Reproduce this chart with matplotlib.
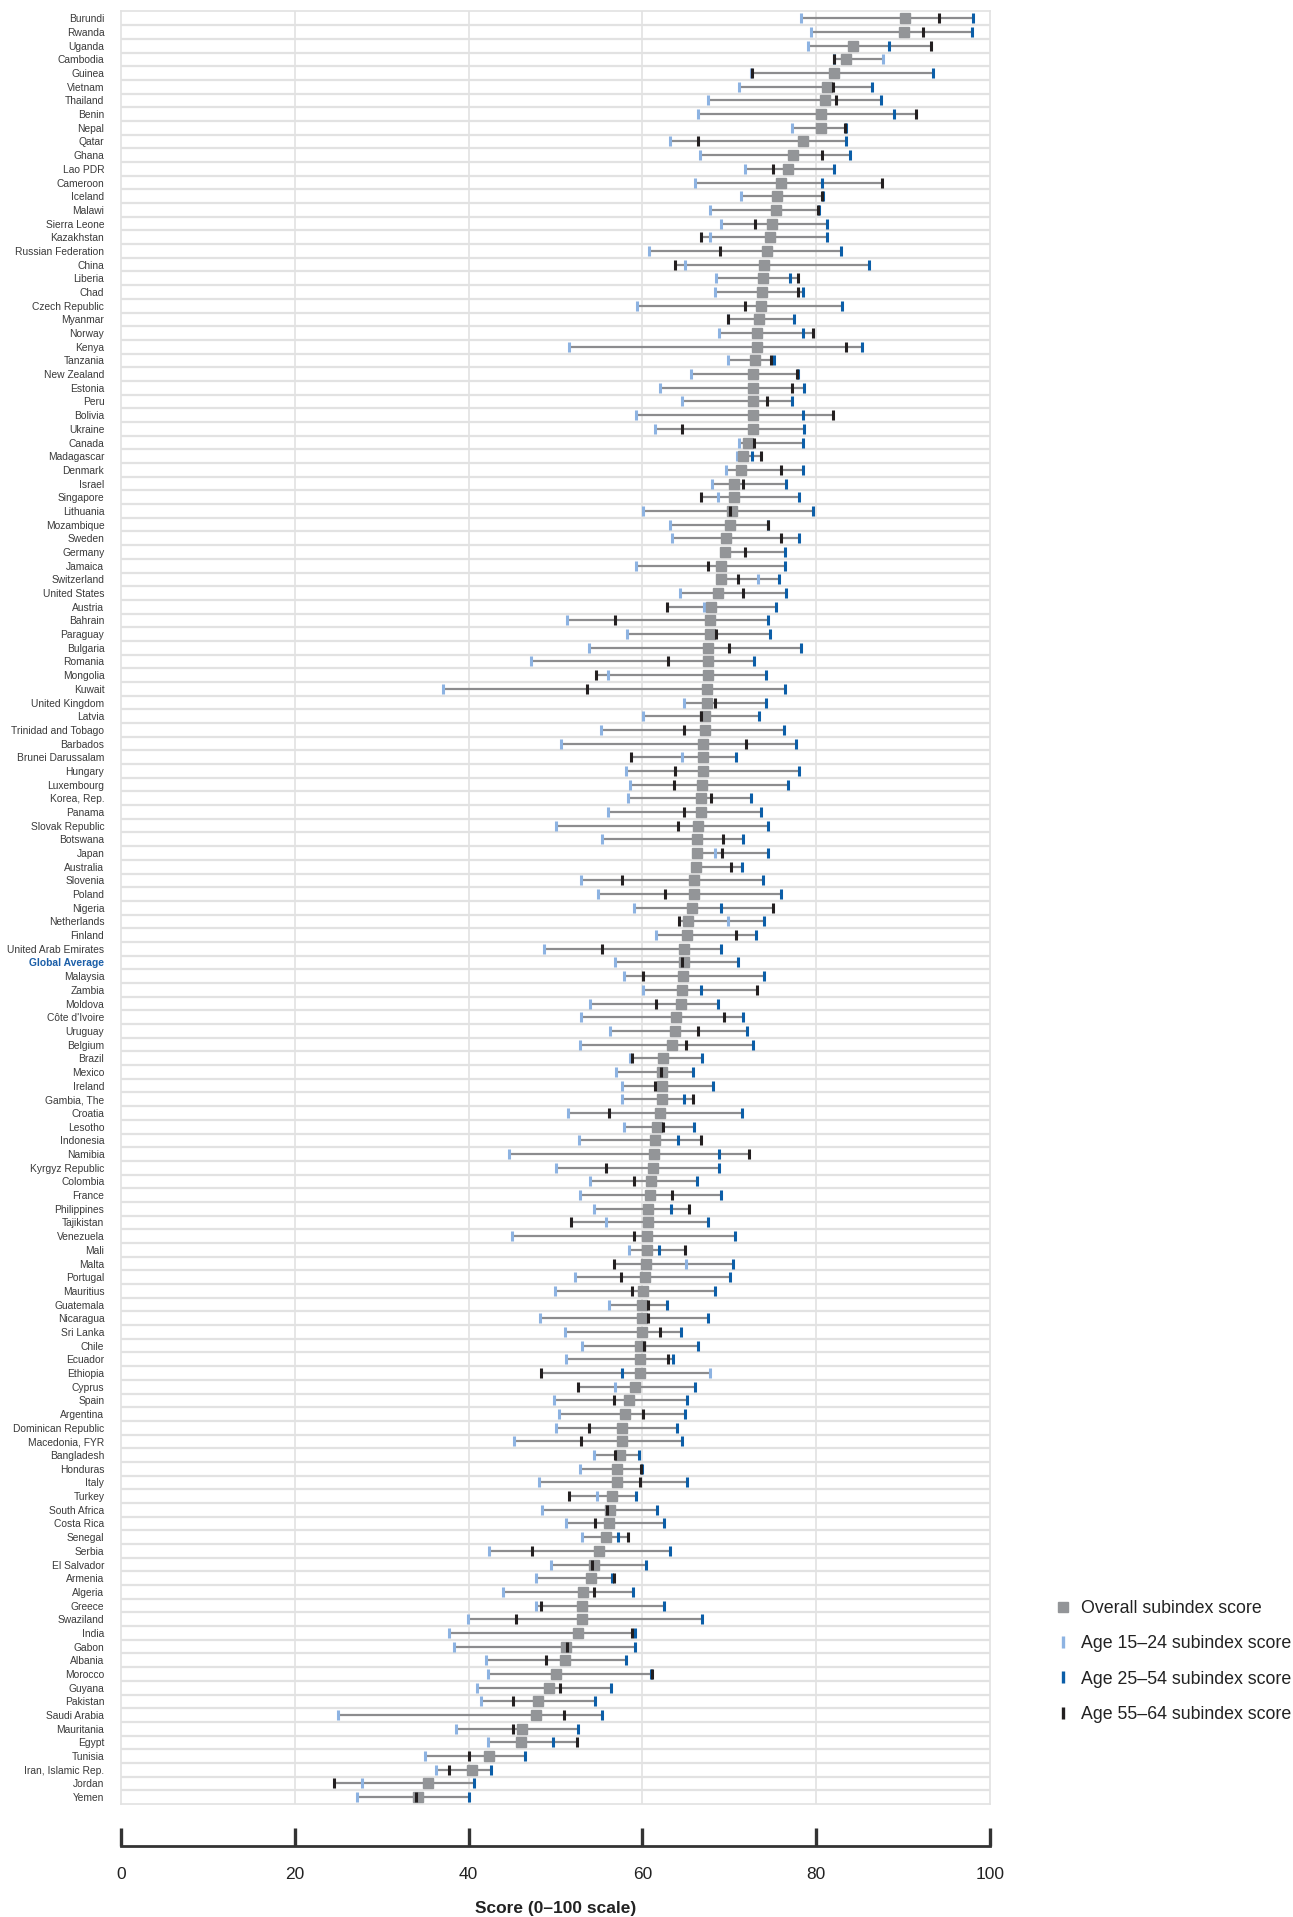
import matplotlib
matplotlib.use("Agg")
import matplotlib.pyplot as plt
from matplotlib.lines import Line2D
import numpy as np

countries = ["Burundi", "Rwanda", "Uganda", "Cambodia", "Guinea", "Vietnam", "Thailand", "Benin", "Nepal", "Qatar",
             "Ghana", "Lao PDR", "Cameroon", "Iceland", "Malawi", "Sierra Leone", "Kazakhstan", "Russian Federation",
             "China", "Liberia", "Chad", "Czech Republic", "Myanmar", "Norway", "Kenya", "Tanzania", "New Zealand",
             "Estonia", "Peru", "Bolivia", "Ukraine", "Canada", "Madagascar", "Denmark", "Israel", "Singapore",
             "Lithuania", "Mozambique", "Sweden", "Germany", "Jamaica", "Switzerland", "United States", "Austria",
             "Bahrain", "Paraguay", "Bulgaria", "Romania", "Mongolia", "Kuwait", "United Kingdom", "Latvia",
             "Trinidad and Tobago", "Barbados", "Brunei Darussalam", "Hungary", "Luxembourg", "Korea, Rep.",
             "Panama", "Slovak Republic", "Botswana", "Japan", "Australia", "Slovenia", "Poland", "Nigeria",
             "Netherlands", "Finland", "United Arab Emirates", "Global Average", "Malaysia", "Zambia", "Moldova",
             "Côte d'Ivoire", "Uruguay", "Belgium", "Brazil", "Mexico", "Ireland", "Gambia, The", "Croatia",
             "Lesotho", "Indonesia", "Namibia", "Kyrgyz Republic", "Colombia", "France", "Philippines",
             "Tajikistan", "Venezuela", "Mali", "Malta", "Portugal", "Mauritius", "Guatemala", "Nicaragua",
             "Sri Lanka", "Chile", "Ecuador", "Ethiopia", "Cyprus", "Spain", "Argentina", "Dominican Republic",
             "Macedonia, FYR", "Bangladesh", "Honduras", "Italy", "Turkey", "South Africa", "Costa Rica", "Senegal",
             "Serbia", "El Salvador", "Armenia", "Algeria", "Greece", "Swaziland", "India", "Gabon", "Albania",
             "Morocco", "Guyana", "Pakistan", "Saudi Arabia", "Mauritania", "Egypt", "Tunisia",
             "Iran, Islamic Rep.", "Jordan", "Yemen"]

overall = [90.2, 90.1, 84.2, 83.4, 82.1, 81.2, 81.0, 80.5, 80.5, 78.5,
           77.3, 76.8, 76.0, 75.5, 75.4, 74.9, 74.7, 74.3, 74.0, 73.9,
           73.8, 73.7, 73.4, 73.2, 73.2, 73.0, 72.7, 72.7, 72.7, 72.7,
           72.7, 72.1, 71.6, 71.3, 70.5, 70.5, 70.3, 70.1, 69.6, 69.5,
           69.1, 69.1, 68.7, 67.9, 67.8, 67.8, 67.6, 67.6, 67.5, 67.4,
           67.4, 67.2, 67.2, 67.0, 67.0, 67.0, 66.9, 66.7, 66.7, 66.4,
           66.3, 66.3, 66.2, 65.9, 65.9, 65.7, 65.3, 65.1, 64.8, 64.8,
           64.7, 64.5, 64.4, 63.9, 63.8, 63.4, 62.4, 62.3, 62.3, 62.2,
           62.0, 61.7, 61.5, 61.3, 61.2, 61.0, 60.9, 60.6, 60.6, 60.5,
           60.5, 60.4, 60.3, 60.1, 60.0, 59.9, 59.9, 59.7, 59.7, 59.7,
           59.1, 58.5, 58.0, 57.6, 57.6, 57.4, 57.1, 57.1, 56.5, 56.3,
           56.1, 55.8, 55.0, 54.4, 54.1, 53.2, 53.1, 53.0, 52.6, 51.2,
           51.1, 50.1, 49.3, 48.0, 47.7, 46.1, 46.0, 42.3, 40.4, 35.3,
           34.2]

age_15_24 = [78.3, 79.4, 79.1, 87.7, 72.5, 71.1, 67.5, 66.4, 77.2, 63.2,
             66.6, 71.8, 66.1, 71.3, 67.8, 69.1, 67.8, 60.8, 64.9, 68.5,
             68.3, 59.4, 69.9, 68.8, 51.5, 69.9, 65.6, 62.0, 64.6, 59.3,
             61.4, 71.1, 70.9, 69.6, 68.0, 68.7, 60.1, 63.2, 63.4, 69.3,
             59.3, 73.3, 64.3, 67.1, 51.3, 58.2, 53.8, 47.2, 56.0, 37.1,
             64.8, 60.1, 55.2, 50.6, 64.5, 58.1, 58.6, 58.3, 56.0, 50.0,
             55.4, 68.3, 66.0, 52.9, 54.9, 59.0, 69.9, 61.6, 48.7, 56.9,
             57.9, 60.1, 54.0, 52.9, 56.3, 52.8, 58.6, 57.0, 57.6, 57.7,
             51.4, 57.9, 52.7, 44.6, 50.0, 54.0, 52.8, 54.4, 55.8, 45.0,
             58.5, 65.0, 52.2, 49.9, 56.2, 48.2, 51.1, 53.1, 51.2, 67.8,
             56.9, 49.8, 50.4, 50.1, 45.2, 54.4, 52.8, 48.1, 54.8, 48.4,
             51.2, 53.1, 42.3, 49.5, 47.7, 44.0, 47.7, 39.9, 37.7, 38.3,
             42.0, 42.2, 41.0, 41.4, 25.0, 38.5, 42.2, 35.0, 36.2, 27.7,
             27.2]

age_25_54 = [98.0, 97.9, 88.4, 82.1, 93.4, 86.4, 87.5, 89.0, 83.4, 83.4,
             83.9, 82.0, 80.7, 80.8, 80.3, 81.2, 81.2, 82.9, 86.1, 77.0,
             78.5, 83.0, 77.4, 78.5, 85.3, 75.2, 77.9, 78.6, 77.2, 78.5,
             78.6, 78.5, 72.6, 78.5, 76.5, 78.0, 79.6, 74.5, 78.0, 76.4,
             76.4, 75.7, 76.5, 75.4, 74.5, 74.7, 78.3, 72.8, 74.2, 76.4,
             74.2, 73.4, 76.3, 77.7, 70.8, 78.0, 76.8, 72.5, 73.7, 74.5,
             71.6, 74.4, 71.5, 73.9, 75.9, 69.1, 74.0, 73.1, 69.1, 71.0,
             74.0, 66.8, 68.7, 71.6, 72.0, 72.7, 66.9, 65.8, 68.1, 64.8,
             71.5, 65.9, 64.1, 68.8, 68.8, 66.3, 69.1, 63.3, 67.6, 70.6,
             61.9, 70.4, 70.1, 68.3, 62.8, 67.5, 64.4, 66.4, 63.5, 57.6,
             66.1, 65.1, 64.9, 64.0, 64.5, 59.6, 59.9, 65.1, 59.3, 61.7,
             62.5, 57.2, 63.2, 60.4, 56.5, 58.9, 62.5, 66.9, 59.1, 59.1,
             58.1, 61.0, 56.4, 54.5, 55.3, 52.6, 49.7, 46.5, 42.6, 40.6,
             40.0]

age_55_64 = [94.1, 92.3, 93.2, 82.0, 72.6, 81.9, 82.3, 91.5, 83.3, 66.4,
             80.7, 75.0, 87.6, 80.7, 80.2, 73.0, 66.8, 68.9, 63.7, 77.9,
             77.9, 71.8, 69.8, 79.6, 83.4, 74.8, 77.8, 77.2, 74.3, 81.9,
             64.6, 72.8, 73.6, 75.9, 71.6, 66.7, 70.1, 74.4, 76.0, 71.8,
             67.5, 71.0, 71.6, 62.8, 56.9, 68.5, 70.0, 63.0, 54.7, 53.6,
             68.4, 66.8, 64.8, 71.9, 58.7, 63.7, 63.6, 67.9, 64.8, 64.1,
             69.3, 69.2, 70.2, 57.7, 62.6, 75.0, 64.2, 70.8, 55.3, 64.5,
             60.1, 73.2, 61.6, 69.4, 66.4, 65.0, 58.8, 62.1, 61.5, 65.8,
             56.1, 62.4, 66.7, 72.3, 55.8, 59.0, 63.4, 65.4, 51.8, 59.0,
             64.9, 56.7, 57.5, 58.8, 60.7, 60.7, 62.0, 60.2, 63.0, 48.3,
             52.6, 56.7, 60.1, 53.8, 52.9, 56.8, 59.8, 59.7, 51.6, 55.9,
             54.6, 58.3, 47.3, 54.2, 56.7, 54.4, 48.3, 45.5, 58.8, 51.3,
             48.9, 61.1, 50.5, 45.1, 51.0, 45.1, 52.5, 40.0, 37.7, 24.5,
             34.0]

legend_labels = ["Overall subindex score", "Age 15\u201324 subindex score",
                 "Age 25\u201354 subindex score", "Age 55\u201364 subindex score"]
x_ticks = [0, 20, 40, 60, 80, 100]
x_label = "Score (0\u2013100 scale)"
highlight = "Global Average"

C_LINE = "#8c8c8e"
C_SQ = "#939598"
C_LIGHT = "#8db3e2"
C_BLUE = "#0b5ea8"
C_BLACK = "#231f20"
C_GRID = "#e2e2e2"

sans = ["Liberation Sans", "DejaVu Sans"]
plt.rcParams["font.family"] = sans

W, H = 1293, 1917
fig = plt.figure(figsize=(W / 100, H / 100), dpi=100)
fig.patch.set_facecolor("white")

left, right = 121 / W, 990 / W
top, bottom = 1 - 11.5 / H, 1 - 1804 / H
ax = fig.add_axes([left, bottom, right - left, top - bottom])

n = len(countries)
ypos = np.arange(n)
ov = np.array(overall)
a1 = np.array(age_15_24)
a2 = np.array(age_25_54)
a3 = np.array(age_55_64)
allv = np.vstack([ov, a1, a2, a3])
lo = allv.min(axis=0)
hi = allv.max(axis=0)

ax.hlines(ypos, lo, hi, color=C_LINE, lw=1.6, zorder=2)
ax.plot(a1, ypos, ls="none", marker="|", ms=7.5, mew=2.2, color=C_LIGHT, zorder=3)
ax.plot(ov, ypos, ls="none", marker="s", ms=7.8, color=C_SQ, mec=C_SQ, zorder=4)
ax.plot(a2, ypos, ls="none", marker="|", ms=7.5, mew=2.2, color=C_BLUE, zorder=5)
ax.plot(a3, ypos, ls="none", marker="|", ms=7.5, mew=2.2, color=C_BLACK, zorder=6)

ax.set_xlim(0, 100)
ax.set_ylim(n - 0.5, -0.5)
for yb in np.arange(0.5, n - 1, 1.0):
    ax.axhline(yb, color=C_GRID, lw=1.6, zorder=1)
for xv in [20, 40, 60, 80]:
    ax.axvline(xv, color=C_GRID, lw=1.2, zorder=1)
for s in ax.spines.values():
    s.set_color(C_GRID)
    s.set_linewidth(1.2)
ax.set_xticks([])
ax.set_yticks(ypos)
ax.set_yticklabels(countries, fontsize=7.4, color="#3a3a3a")
ax.tick_params(axis="y", length=0, pad=12)
for lab in ax.get_yticklabels():
    if lab.get_text() == highlight:
        lab.set_color("#1a5ea8")
        lab.set_fontweight("bold")

# bottom scale axis
axb = fig.add_axes([left, 1 - 1846 / H, right - left, 0.0005])
axb.set_xlim(0, 100)
axb.set_yticks([])
for s in ["top", "left", "right"]:
    axb.spines[s].set_visible(False)
axb.spines["bottom"].set_color("#333333")
axb.spines["bottom"].set_linewidth(2.0)
axb.set_xticks(x_ticks)
axb.set_xticklabels([str(t) for t in x_ticks], fontsize=12.5, color="#222222")
axb.tick_params(axis="x", direction="in", length=13, width=2.4, color="#333333", pad=15)
axb.set_xlabel(x_label, fontsize=12.5, fontweight="bold", color="#222222", labelpad=14)
axb.patch.set_alpha(0)

handles = [
    Line2D([], [], ls="none", marker="s", ms=7.8, color=C_SQ),
    Line2D([], [], ls="none", marker="|", ms=8, mew=2.4, color=C_LIGHT),
    Line2D([], [], ls="none", marker="|", ms=8, mew=2.4, color=C_BLUE),
    Line2D([], [], ls="none", marker="|", ms=8, mew=2.4, color=C_BLACK),
]
fig.legend(handles, legend_labels, loc="upper left", bbox_to_anchor=(1056 / W, 1 - 1600 / H),
           frameon=False, fontsize=12.8, labelspacing=1.03, handlelength=0.8, handletextpad=0.6,
           borderaxespad=0, borderpad=0, labelcolor="#222222")

fig.savefig("out.png", dpi=100, facecolor="white")
